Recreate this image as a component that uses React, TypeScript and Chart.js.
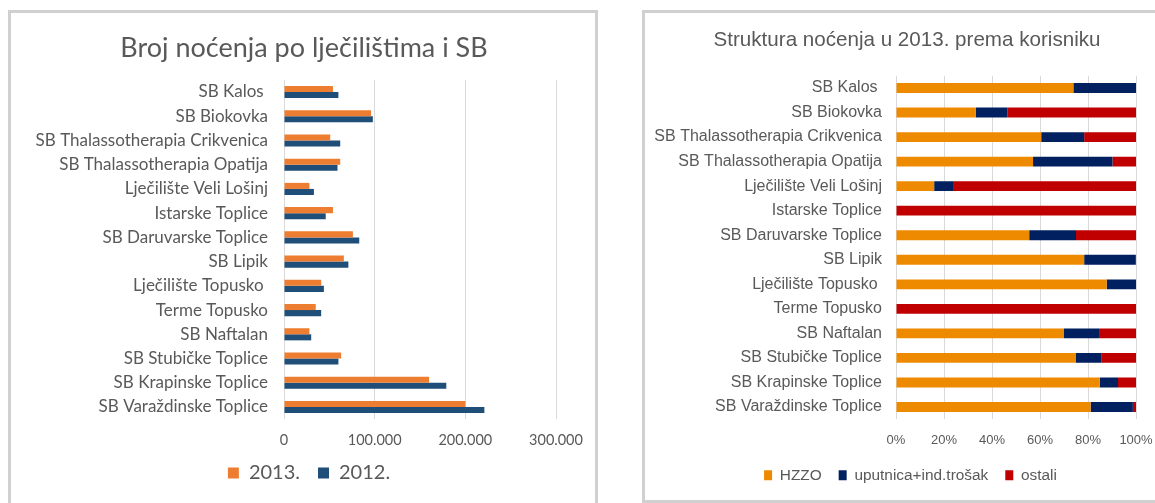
import React, { useEffect, useRef } from "react";
import { Chart, registerables } from "chart.js";

Chart.register(...registerables);

const leftCategories = [
  "SB Kalos ",
  "SB Biokovka",
  "SB Thalassotherapia Crikvenica",
  "SB Thalassotherapia Opatija",
  "Lječilište Veli Lošinj",
  "Istarske Toplice",
  "SB Daruvarske Toplice",
  "SB Lipik",
  "Lječilište Topusko ",
  "Terme Topusko",
  "SB Naftalan",
  "SB Stubičke Toplice",
  "SB Krapinske Toplice",
  "SB Varaždinske Toplice",
];

const nights2013 = [54000, 96000, 51000, 62000, 28000, 54000, 76000, 66000, 41000, 35000, 28000, 63000, 160000, 200000];
const nights2012 = [60000, 98000, 62000, 59000, 33000, 46000, 83000, 71000, 44000, 41000, 30000, 60000, 179000, 221000];

const rightCategories = [
  "SB Kalos ",
  "SB Biokovka",
  "SB Thalassotherapia Crikvenica",
  "SB Thalassotherapia Opatija",
  "Lječilište Veli Lošinj",
  "Istarske Toplice",
  "SB Daruvarske Toplice",
  "SB Lipik",
  "Lječilište Topusko ",
  "Terme Topusko",
  "SB Naftalan",
  "SB Stubičke Toplice",
  "SB Krapinske Toplice",
  "SB Varaždinske Toplice",
];

const shareHZZO = [73.9, 33.3, 60.5, 57.1, 15.9, 0, 55.5, 78.4, 87.8, 0, 70.0, 75.0, 84.9, 81.1];
const shareUputnica = [26.1, 13.2, 17.9, 33.1, 8.2, 0, 19.5, 21.2, 12.2, 0, 14.6, 10.5, 7.6, 17.6];
const shareOstali = [0, 53.5, 21.6, 9.8, 75.9, 100, 25.0, 0.4, 0, 100, 15.4, 14.5, 7.5, 1.3];

const leftTitle = "Broj noćenja po lječilištima i SB";
const rightTitle = "Struktura noćenja u 2013. prema korisniku";
const leftSeriesNames = ["2013.", "2012."];
const rightSeriesNames = ["HZZO", "uputnica+ind.trošak", "ostali"];

const TEXT = "#595959";
const GRID = "#d9d9d9";

function shiftPlugin(titleDx: number, legendDx: number) {
  return {
    id: "shiftBlocks",
    afterLayout(chart: any) {
      const t = chart.titleBlock;
      if (t) { t.left += titleDx; t.right += titleDx; }
      const l = chart.legend;
      if (l) { l.left += legendDx; l.right += legendDx; }
    },
  };
}

export default function App() {
  const leftRef = useRef<HTMLCanvasElement>(null);
  const rightRef = useRef<HTMLCanvasElement>(null);

  useEffect(() => {
    const lf = "Lato";
    const left = new Chart(leftRef.current!, {
      type: "bar",
      data: {
        labels: leftCategories,
        datasets: [
          { label: leftSeriesNames[0], data: nights2013, backgroundColor: "#ED7D31", categoryPercentage: 0.5, barPercentage: 1.0 },
          { label: leftSeriesNames[1], data: nights2012, backgroundColor: "#1F4E79", categoryPercentage: 0.5, barPercentage: 1.0 },
        ],
      },
      plugins: [shiftPlugin(20.5, 25.5)],
      options: {
        indexAxis: "y",
        animation: false,
        responsive: false,
        devicePixelRatio: 1,
        layout: { padding: { left: 0, right: 47, top: 0, bottom: 10 } },
        plugins: {
          title: {
            display: true,
            text: leftTitle,
            color: TEXT,
            font: { family: lf, size: 27, weight: "normal", lineHeight: 1.2 },
            padding: { top: 18.8, bottom: 15.7 },
          },
          legend: {
            display: true,
            position: "bottom",
            labels: {
              color: TEXT,
              font: { family: lf, size: 20, lineHeight: 1.2 },
              boxWidth: 11,
              boxHeight: 11,
              padding: 18,
            },
          },
          tooltip: { enabled: false },
        },
        scales: {
          x: {
            min: 0,
            max: 300000,
            ticks: {
              stepSize: 100000,
              color: TEXT,
              font: { family: lf, size: 14.5, lineHeight: 1.2 },
              padding: 12.2,
              callback: (v: any) => Number(v).toLocaleString("de-DE"),
            },
            grid: { color: GRID, drawTicks: false, lineWidth: 1 },
            border: { display: false },
            afterFit: (s: any) => { s.height = 25.9; },
          },
          y: {
            ticks: {
              color: TEXT,
              font: { family: lf, size: 17, lineHeight: 1.2 },
              padding: 16,
              autoSkip: false,
            },
            grid: { display: false, drawTicks: false },
            border: { display: false },
            afterFit: (s: any) => { s.width = 273; },
          },
        },
      },
    });

    const rf = "Liberation Sans";
    const right = new Chart(rightRef.current!, {
      type: "bar",
      data: {
        labels: rightCategories,
        datasets: [
          { label: rightSeriesNames[0], data: shareHZZO, backgroundColor: "#EE8A00", categoryPercentage: 0.4, barPercentage: 1.0 },
          { label: rightSeriesNames[1], data: shareUputnica, backgroundColor: "#002060", categoryPercentage: 0.4, barPercentage: 1.0 },
          { label: rightSeriesNames[2], data: shareOstali, backgroundColor: "#C00000", categoryPercentage: 0.4, barPercentage: 1.0 },
        ],
      },
      plugins: [shiftPlugin(16.5, 20)],
      options: {
        indexAxis: "y",
        animation: false,
        responsive: false,
        devicePixelRatio: 1,
        layout: { padding: { left: 0, right: 37, top: 0, bottom: 10 } },
        plugins: {
          title: {
            display: true,
            text: rightTitle,
            color: TEXT,
            font: { family: rf, size: 20.6, weight: "normal", lineHeight: 1.2 },
            padding: { top: 14.6, bottom: 23.4 },
          },
          legend: {
            display: true,
            position: "bottom",
            labels: {
              color: TEXT,
              font: { family: rf, size: 15.4, lineHeight: 1.2 },
              boxWidth: 8,
              boxHeight: 10,
              padding: 17,
            },
          },
          tooltip: { enabled: false },
        },
        scales: {
          x: {
            stacked: true,
            min: 0,
            max: 100,
            ticks: {
              stepSize: 20,
              color: TEXT,
              font: { family: rf, size: 13, lineHeight: 1.2 },
              padding: 12.9,
              callback: (v: any) => v + "%",
            },
            grid: { color: GRID, drawTicks: false, lineWidth: 1 },
            border: { display: false },
            afterFit: (s: any) => { s.height = 31.3; },
          },
          y: {
            stacked: true,
            ticks: {
              color: TEXT,
              font: { family: rf, size: 16, lineHeight: 1.2 },
              padding: 14,
              autoSkip: false,
            },
            grid: { display: false, drawTicks: false },
            border: { display: false },
            afterFit: (s: any) => { s.width = 251; },
          },
        },
      },
    });

    return () => {
      left.destroy();
      right.destroy();
    };
  }, []);

  return (
    <div style={{ position: "fixed", left: 0, top: 0, width: 1155, height: 503, overflow: "hidden", background: "#fff" }}>
      <div style={{ position: "absolute", left: 8, top: 10, width: 590, height: 520, border: "3px solid #d0d0d0", boxSizing: "border-box" }} />
      <div style={{ position: "absolute", left: 642, top: 10, width: 540, height: 493, border: "3px solid #d0d0d0", boxSizing: "border-box" }} />
      <canvas ref={leftRef} width={592} height={490} style={{ position: "absolute", left: 11, top: 13, width: 592, height: 490 }} />
      <canvas ref={rightRef} width={528} height={490} style={{ position: "absolute", left: 645, top: 13, width: 528, height: 490 }} />
    </div>
  );
}
